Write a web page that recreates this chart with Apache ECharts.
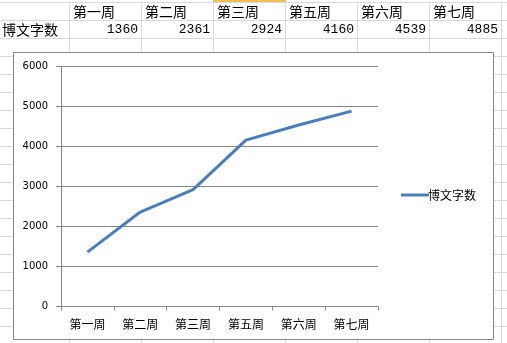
<!DOCTYPE html>
<html>
<head>
<meta charset="utf-8">
<script src="https://cdn.jsdelivr.net/npm/echarts@6/dist/echarts.min.js"></script>
<style>
  html, body { margin: 0; padding: 0; background: #fff; }
  #chart { width: 507px; height: 343px; }
</style>
</head>
<body>
<div id="chart"></div>
<script>
// Weekly blog word counts
const seriesName = '博文字数';
const weeks = ['第一周', '第二周', '第三周', '第五周', '第六周', '第七周'];
const wordCounts = [1360, 2361, 2924, 4160, 4539, 4885];
const yTicks = [0, 1000, 2000, 3000, 4000, 5000, 6000];

const W = 507, H = 343;
const colLeft = 69, colW = 72;       // worksheet column geometry
const rowTop = 2, rowH = 18;          // worksheet row geometry
const cellLine = '#d6dae0';
const cjk = '"Noto Sans CJK SC", "Noto Sans CJK JP", sans-serif';

const graphics = [];

// worksheet gridlines
for (let i = 0; i <= weeks.length; i++) {
  const x = colLeft + i * colW + 0.5;
  graphics.push({ type: 'line', z: -20, silent: true,
    shape: { x1: x, y1: rowTop, x2: x, y2: H },
    style: { stroke: cellLine, lineWidth: 1 } });
}
for (let y = rowTop; y <= H; y += rowH) {
  graphics.push({ type: 'line', z: -20, silent: true,
    shape: { x1: 0, y1: y + 0.5, x2: W, y2: y + 0.5 },
    style: { stroke: cellLine, lineWidth: 1 } });
}
// highlighted column edge above the third column
graphics.push({ type: 'rect', z: -19, silent: true,
  shape: { x: colLeft + 2 * colW, y: 0, width: colW + 1, height: 2 },
  style: { fill: '#f0c050' } });

// table: header row with week names, data row with the counts
weeks.forEach((w, i) => {
  graphics.push({ type: 'text', z: -18, silent: true,
    x: colLeft + i * colW + 4, y: rowTop + rowH / 2 + 1,
    style: { text: w, font: '14px ' + cjk, fill: '#000', verticalAlign: 'middle', align: 'left' } });
  graphics.push({ type: 'text', z: -18, silent: true,
    x: colLeft + (i + 1) * colW - 3, y: rowTop + rowH * 1.5 + 1,
    style: { text: String(wordCounts[i]), font: '13px "Liberation Mono", "DejaVu Sans Mono", monospace',
             fill: '#000', verticalAlign: 'middle', align: 'right' } });
});
graphics.push({ type: 'text', z: -18, silent: true,
  x: 2, y: rowTop + rowH * 1.5 + 1,
  style: { text: seriesName, font: '14px ' + cjk, fill: '#000', verticalAlign: 'middle', align: 'left' } });

// chart frame
graphics.push({ type: 'rect', z: -10, silent: true,
  shape: { x: 13.5, y: 52.5, width: 480, height: 287 },
  style: { fill: '#fff', stroke: '#868686', lineWidth: 1 } });

const chart = echarts.init(document.getElementById('chart'), null, { renderer: 'canvas' });
chart.setOption({
  animation: false,
  backgroundColor: '#fff',
  graphic: graphics,
  grid: { left: 61, right: W - 378, top: 66.5, bottom: H - 306.5, containLabel: false },
  legend: {
    data: [seriesName],
    orient: 'vertical',
    left: 396, top: 184,
    itemWidth: 28, itemHeight: 14,
    itemGap: 4,
    icon: 'path://M0,6 L28,6 L28,9 L0,9 Z',
    textStyle: { fontFamily: cjk, fontSize: 12, color: '#000', padding: [0, 0, 0, -6] }
  },
  xAxis: {
    type: 'category',
    data: weeks,
    boundaryGap: true,
    axisLine: { lineStyle: { color: '#868686', width: 1 } },
    axisTick: { show: true, length: 4, alignWithLabel: false, lineStyle: { color: '#868686' } },
    axisLabel: { fontFamily: cjk, fontSize: 12, color: '#000', margin: 12, interval: 0 },
    splitLine: { show: false }
  },
  yAxis: {
    type: 'value',
    min: yTicks[0],
    max: yTicks[yTicks.length - 1],
    interval: yTicks[1] - yTicks[0],
    axisLine: { show: true, lineStyle: { color: '#868686', width: 1 } },
    axisTick: { show: true, length: 5, lineStyle: { color: '#868686' } },
    axisLabel: { fontFamily: '"DejaVu Sans", sans-serif', fontSize: 10, color: '#000', margin: 13,
                 formatter: v => String(v) },
    splitLine: { show: true, lineStyle: { color: '#868686', width: 1 } }
  },
  series: [{
    name: seriesName,
    type: 'line',
    data: wordCounts,
    symbol: 'none',
    lineStyle: { color: '#4a7ebb', width: 3 },
    itemStyle: { color: '#4a7ebb' }
  }]
});
</script>
</body>
</html>
